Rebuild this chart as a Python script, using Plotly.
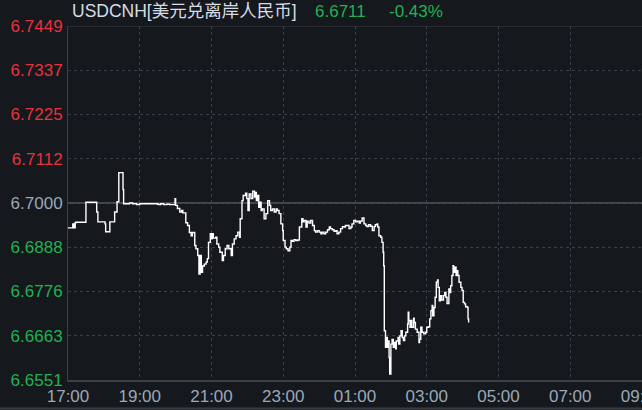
import plotly.graph_objects as go
from datetime import datetime, timedelta

# ---- data ----
times = ["17:00","17:08","17:10","17:12","17:13","17:30","17:48","17:50","18:02","18:03",
         "18:10","18:18","18:22","18:25","18:32","18:33","18:43","18:48","18:55","19:00",
         "19:30","19:32","19:35","19:40","19:45","19:50","19:59","20:00","20:03","20:07",
         "20:10","20:12","20:17","20:20","20:23","20:26","20:28","20:32","20:34","20:37",
         "20:39","20:41","20:43","20:45","20:48","20:51","20:53","20:55","20:58","20:59",
         "21:01","21:03","21:07","21:09","21:12","21:14","21:18","21:20","21:23","21:26",
         "21:29","21:33","21:35","21:38","21:41","21:44","21:47","21:48","21:51","21:53",
         "21:57","21:59","22:01","22:03","22:06","22:09","22:12","22:13","22:15","22:17",
         "22:19","22:21","22:23","22:25","22:28","22:31","22:34","22:37","22:39","22:42",
         "22:45","22:48","22:50","22:53","22:56","22:59","23:00","23:03","23:05","23:08",
         "23:11","23:13","23:15","23:18","23:21","23:24","23:27","23:29","23:31","23:33",
         "23:35","23:38","23:40","23:43","23:46","23:49","23:52","23:54","23:57","00:00",
         "00:03","00:05","00:08","00:11","00:14","00:17","00:19","00:22","00:25","00:28",
         "00:30","00:33","00:36","00:39","00:42","00:44","00:47","00:50","00:53","00:55",
         "00:58","01:01","01:04","01:07","01:09","01:12","01:15","01:18","01:20","01:23",
         "01:26","01:29","01:32","01:34","01:37","01:38","01:40","01:43","01:45","01:47",
         "01:48","01:49","01:51","01:53","01:54","01:55","01:57","01:58","02:00","02:02",
         "02:04","02:06","02:08","02:09","02:12","02:13","02:15","02:17","02:19","02:21",
         "02:23","02:25","02:28","02:29","02:30","02:32","02:34","02:35","02:38","02:39",
         "02:41","02:44","02:47","02:48","02:50","02:52","02:55","02:58","03:00","03:03",
         "03:05","03:07","03:09","03:10","03:12","03:14","03:16","03:18","03:19","03:21",
         "03:23","03:25","03:28","03:30","03:32","03:34","03:37","03:38","03:40","03:42",
         "03:44","03:45","03:47","03:49","03:50","03:52","03:54","03:57","03:59","04:01",
         "04:03","04:05","04:08","04:09","04:10"]

prices = [6.6937,6.6947,6.6937,6.6950,6.6951,6.7002,6.6977,6.6952,6.6947,6.6927,
          6.6952,6.6977,6.7003,6.7077,6.7034,6.6998,6.7000,6.6998,6.6996,6.6998,
          6.6997,6.6996,6.6998,6.6996,6.6997,6.6996,6.7011,6.6994,6.6986,6.6977,
          6.6981,6.6975,6.6950,6.6943,6.6925,6.6917,6.6925,6.6892,6.6884,6.6867,
          6.6820,6.6867,6.6824,6.6840,6.6845,6.6850,6.6859,6.6900,6.6922,6.6909,
          6.6922,6.6911,6.6913,6.6896,6.6888,6.6875,6.6854,6.6867,6.6884,6.6892,
          6.6884,6.6867,6.6896,6.6909,6.6917,6.6926,6.6913,6.6960,6.7006,6.7019,
          6.7025,6.7011,6.6981,6.7023,6.7011,6.7030,6.7015,6.7027,6.7006,6.7019,
          6.6989,6.7002,6.6981,6.6985,6.6960,6.6973,6.7006,6.6994,6.6981,6.6985,
          6.6977,6.6985,6.6981,6.6973,6.6947,6.6930,6.6905,6.6888,6.6884,6.6879,
          6.6888,6.6905,6.6903,6.6907,6.6905,6.6906,6.6939,6.6939,6.6960,6.6952,
          6.6956,6.6939,6.6954,6.6949,6.6956,6.6943,6.6930,6.6926,6.6930,6.6926,
          6.6922,6.6926,6.6922,6.6926,6.6932,6.6939,6.6935,6.6932,6.6928,6.6930,
          6.6922,6.6926,6.6935,6.6940,6.6939,6.6943,6.6943,6.6935,6.6939,6.6947,
          6.6956,6.6952,6.6954,6.6949,6.6954,6.6962,6.6947,6.6943,6.6940,6.6945,
          6.6941,6.6930,6.6940,6.6945,6.6947,6.6939,6.6917,6.6913,6.6900,6.6875,
          6.6841,6.6676,6.6634,6.6659,6.6634,6.6650,6.6608,6.6566,6.6642,6.6654,
          6.6634,6.6646,6.6630,6.6650,6.6659,6.6642,6.6663,6.6676,6.6659,6.6651,
          6.6663,6.6672,6.6693,6.6723,6.6702,6.6685,6.6702,6.6685,6.6708,6.6697,
          6.6680,6.6672,6.6646,6.6654,6.6685,6.6672,6.6668,6.6672,6.6685,6.6686,
          6.6706,6.6727,6.6740,6.6714,6.6735,6.6761,6.6799,6.6805,6.6786,6.6752,
          6.6765,6.6754,6.6765,6.6773,6.6761,6.6745,6.6782,6.6773,6.6790,6.6816,
          6.6841,6.6824,6.6837,6.6816,6.6828,6.6816,6.6799,6.6786,6.6778,6.6748,
          6.6744,6.6737,6.6735,6.6706,6.6697]

y_ticks = [6.7449, 6.7337, 6.7225, 6.7112, 6.7000, 6.6888, 6.6776, 6.6663, 6.6551]
prev_close = 6.7000
x_tick_labels = ["17:00", "19:00", "21:00", "23:00", "01:00", "03:00", "05:00", "07:00", "09:00"]
title_name = "USDCNH[美元兑离岸人民币]"
last_price_text = "6.6711"
change_text = "-0.43%"

# ---- build datetimes ----
day0 = datetime(2023, 1, 16)
def to_dt(hm):
    h, m = map(int, hm.split(":"))
    d = day0 if h >= 17 else day0 + timedelta(days=1)
    return d.replace(hour=h, minute=m)

xs = [to_dt(t) for t in times]
x_tick_vals = [to_dt(t) for t in x_tick_labels[:-1]] + [day0 + timedelta(days=1, hours=9)]
x_start = day0.replace(hour=17)
x_end = day0 + timedelta(days=1, hours=9)

RED = "#e8323c"
GREEN = "#1fb34f"
NEUTRAL = "#9aa8b8"
BG = "#15181d"
GRID = "#3a3f47"
AXIS = "#3c3f44"
FONT = "Liberation Sans, Arial, Noto Sans CJK SC, sans-serif"

def col(v):
    if v > prev_close + 1e-9:
        return RED
    if v < prev_close - 1e-9:
        return GREEN
    return NEUTRAL

y_text = ['<span style="color:%s">%.4f</span>' % (col(v), v) for v in y_ticks]

fig = go.Figure()
fig.add_trace(go.Scatter(x=xs, y=prices, mode="lines", line=dict(color="#ffffff", width=1.4, shape="hv"),
                         hoverinfo="skip", showlegend=False))

fig.update_layout(
    width=642, height=410,
    margin=dict(l=68, r=0, t=26, b=30, autoexpand=False),
    paper_bgcolor=BG, plot_bgcolor=BG,
    font=dict(family=FONT, size=17, color=NEUTRAL),
    showlegend=False,
)
fig.update_xaxes(
    type="date", range=[x_start, x_end], automargin=False,
    tickvals=x_tick_vals, ticktext=x_tick_labels,
    showgrid=True, gridcolor=GRID, griddash="dot", gridwidth=1,
    showline=True, linecolor=AXIS, linewidth=2,
    ticks="", ticklabeloverflow="allow",
    tickfont=dict(size=17, color=NEUTRAL, family=FONT),
    zeroline=False, fixedrange=True,
)
fig.update_yaxes(
    range=[y_ticks[-1], y_ticks[0]], automargin=False,
    tickvals=y_ticks, ticktext=y_text,
    showgrid=True, gridcolor=GRID, griddash="dot", gridwidth=1,
    showline=True, linecolor=AXIS, linewidth=1,
    ticks="", ticklabelstandoff=1, ticklabeloverflow="allow",
    tickfont=dict(size=17, color=NEUTRAL, family=FONT),
    zeroline=False, fixedrange=True,
)

# solid reference lines: previous close and top frame
fig.add_shape(type="line", xref="paper", yref="y", x0=0, x1=1, y0=prev_close, y1=prev_close,
              line=dict(color="#45484d", width=2), layer="below")
fig.add_shape(type="line", xref="paper", yref="y", x0=0, x1=1, y0=y_ticks[0], y1=y_ticks[0],
              line=dict(color=AXIS, width=1), layer="below")
# bottom separator strip
fig.add_shape(type="line", xref="paper", yref="paper", x0=-0.2, x1=1.1, y0=-0.0805, y1=-0.0805,
              line=dict(color="#3a3d42", width=2), layer="above")

fig.add_annotation(xref="paper", yref="paper", x=0.003, y=1.042, xanchor="left", yanchor="middle",
                   text=title_name, showarrow=False, font=dict(family=FONT, size=17.5, color="#d5dde6"))
fig.add_annotation(xref="paper", yref="paper", x=0.4268, y=1.042, xanchor="left", yanchor="middle",
                   text=last_price_text, showarrow=False, font=dict(family=FONT, size=17, color=GREEN))
fig.add_annotation(xref="paper", yref="paper", x=0.5557, y=1.042, xanchor="left", yanchor="middle",
                   text=change_text, showarrow=False, font=dict(family=FONT, size=17, color=GREEN))

fig.write_html("out.html", config={"displayModeBar": False},
               post_script=["document.body.style.margin='0';document.body.style.overflow='hidden';"])
